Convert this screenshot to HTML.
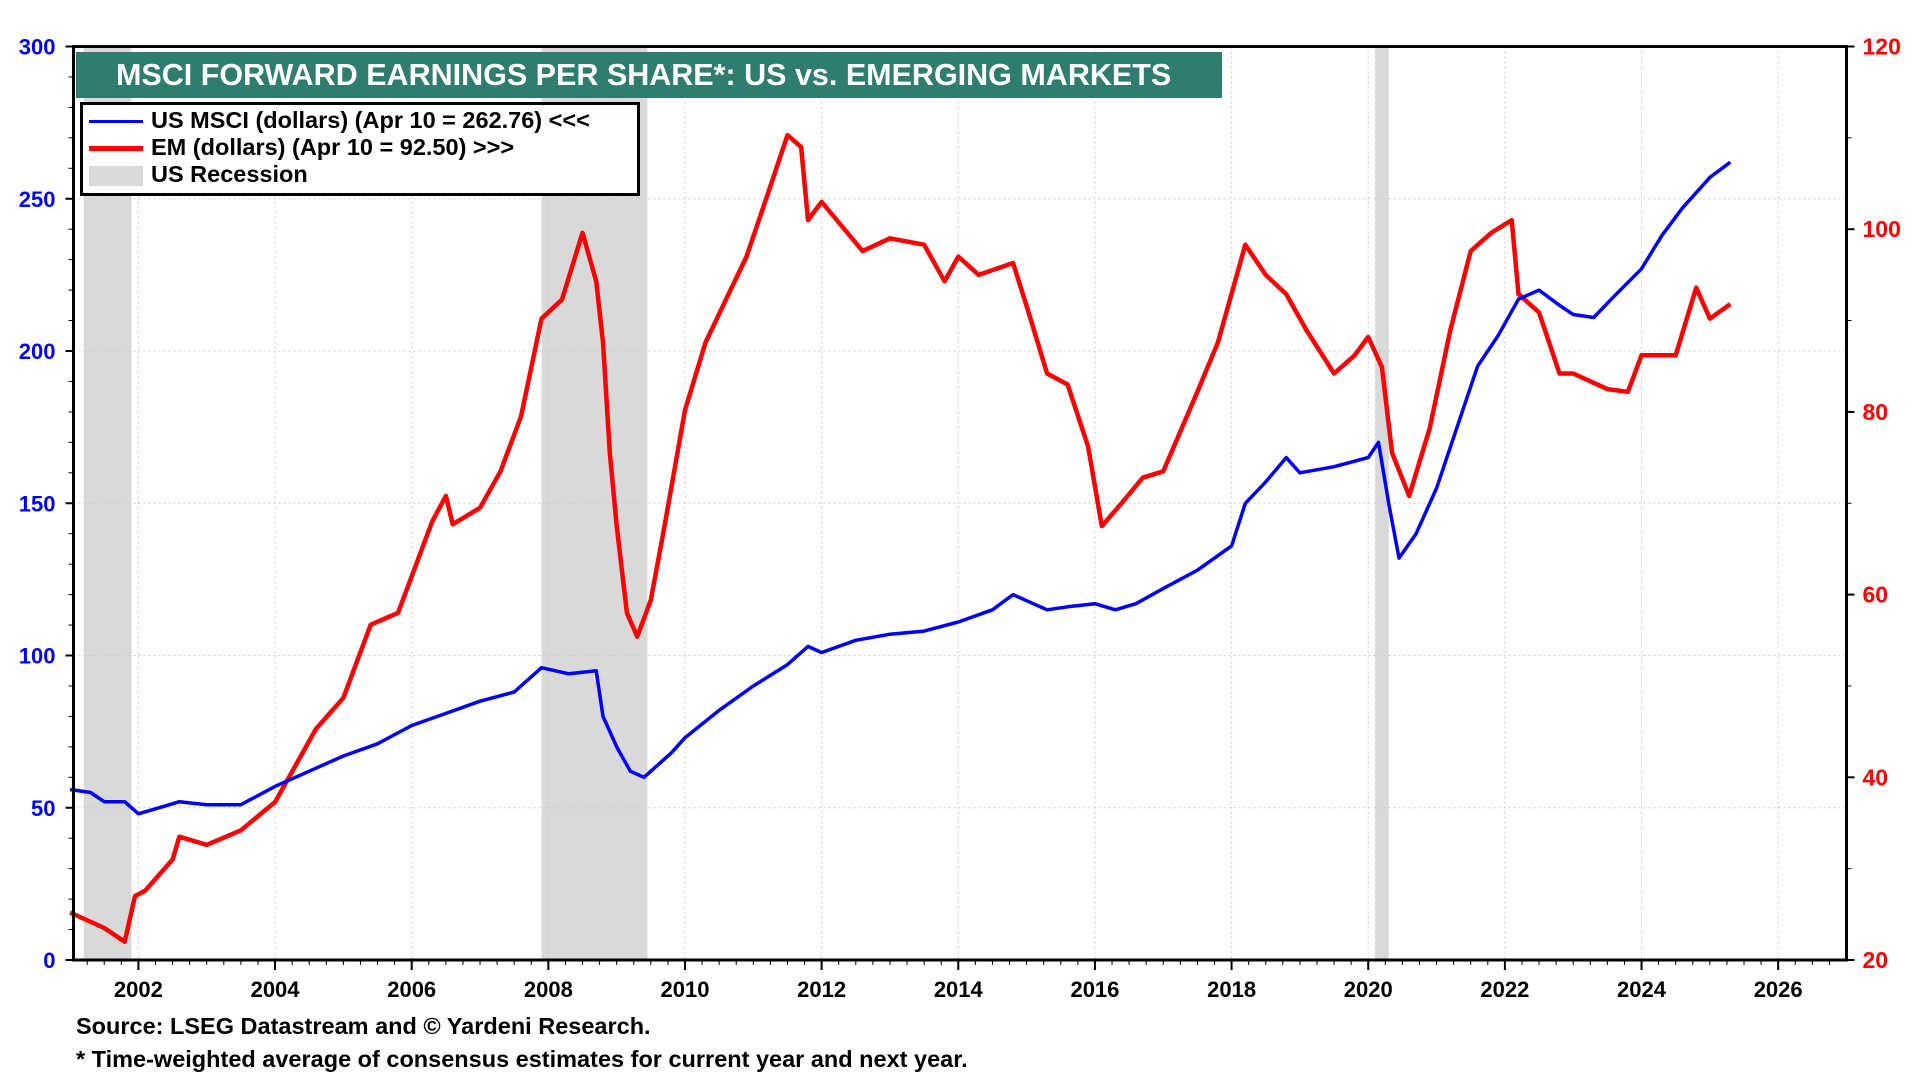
<!DOCTYPE html>
<html><head><meta charset="utf-8"><style>
html,body{margin:0;padding:0;background:#fff;}
svg{display:block;font-family:"Liberation Sans",Arial,sans-serif;}
</style></head><body>
<svg id="chart" width="1920" height="1080"></svg>
<script>
const usX=[2001.0,2001.3,2001.5,2001.8,2002.0,2002.3,2002.6,2003.0,2003.5,2004.0,2004.5,2005.0,2005.5,2006.0,2006.5,2007.0,2007.5,2007.9,2008.3,2008.7,2008.8,2009.0,2009.2,2009.4,2009.8,2010.0,2010.5,2011.0,2011.5,2011.8,2012.0,2012.5,2013.0,2013.5,2014.0,2014.5,2014.8,2015.0,2015.3,2015.6,2016.0,2016.3,2016.6,2017.0,2017.5,2018.0,2018.2,2018.5,2018.8,2019.0,2019.5,2020.0,2020.15,2020.3,2020.45,2020.7,2021.0,2021.3,2021.6,2021.9,2022.2,2022.5,2022.8,2023.0,2023.3,2023.6,2024.0,2024.3,2024.6,2025.0,2025.3];
const usY=[56,55,52,52,48,50,52,51,51,57,62,67,71,77,81,85,88,96,94,95,80,70,62,60,68,73,82,90,97,103,101,105,107,108,111,115,120,118,115,116,117,115,117,122,128,136,150,157,165,160,162,165,170,150,132,140,155,175,195,205,217,220,215,212,211,218,227,238,247,257,262];
const emX=[2001.0,2001.5,2001.8,2001.95,2002.1,2002.5,2002.6,2003.0,2003.5,2004.0,2004.3,2004.6,2005.0,2005.4,2005.8,2006.0,2006.3,2006.5,2006.6,2007.0,2007.3,2007.6,2007.9,2008.2,2008.5,2008.7,2008.8,2008.9,2009.0,2009.15,2009.3,2009.5,2009.7,2010.0,2010.3,2010.6,2010.9,2011.2,2011.5,2011.7,2011.8,2012.0,2012.3,2012.6,2013.0,2013.5,2013.8,2014.0,2014.3,2014.8,2015.0,2015.3,2015.6,2015.9,2016.1,2016.4,2016.7,2017.0,2017.5,2017.8,2018.2,2018.5,2018.8,2019.1,2019.5,2019.8,2020.0,2020.2,2020.35,2020.6,2020.9,2021.2,2021.5,2021.8,2022.1,2022.2,2022.5,2022.8,2023.0,2023.5,2023.8,2024.0,2024.5,2024.8,2025.0,2025.3];
const emY=[25.2,23.5,22,27,27.6,31,33.5,32.6,34.2,37.3,41.3,45.3,48.7,56.7,58,62,68,70.8,67.7,69.5,73.5,79.5,90.2,92.3,99.6,94.3,87.6,75.5,67.5,58,55.4,59.4,67.5,80.2,87.6,92.3,97,103.6,110.3,109,101,103,100.3,97.6,99,98.3,94.3,97,95,96.3,91.6,84.2,83,76.2,67.5,70.1,72.8,73.5,82.2,87.6,98.3,95,92.9,88.9,84.2,86.2,88.2,84.9,75.5,70.8,78.2,88.9,97.6,99.6,101,92.9,90.9,84.2,84.2,82.5,82.2,86.2,86.2,93.6,90.2,91.8];
const recessions=[[2001.2,2001.9],[2007.9,2009.45],[2020.1,2020.3]];
const leftTicks=[0,50,100,150,200,250,300];
const rightTicks=[20,40,60,80,100,120];
const yearTicks=[2002,2004,2006,2008,2010,2012,2014,2016,2018,2020,2022,2024,2026];

const L=73.5,R=1846.5,T=46.5,B=960;
const x0=2001.05,x1=2027.0;
const sx=v=>L+(v-x0)/(x1-x0)*(R-L);
const syL=v=>B-(v/300)*(B-T);
const syR=v=>B-((v-20)/100)*(B-T);
const svg=document.getElementById('chart');
const NS='http://www.w3.org/2000/svg';
function mk(tag,attrs,parent){const e=document.createElementNS(NS,tag);for(const k in attrs)e.setAttribute(k,attrs[k]);(parent||svg).appendChild(e);return e;}

recessions.forEach(r=>{const e=mk('rect',{x:sx(r[0]),y:T,width:sx(r[1])-sx(r[0]),height:B-T,fill:'#d9d9d9'});

});

leftTicks.forEach(v=>{if(v>0&&v<300){const g=mk('line',{x1:L,x2:R,y1:syL(v),y2:syL(v),stroke:'#ccc','stroke-dasharray':'2,3','stroke-width':1});

}
const t=mk('text',{x:L-18,y:syL(v)+8,'text-anchor':'end','font-size':22,'font-weight':'bold',fill:'#0000ff'});t.textContent=v;


mk('line',{x1:L-8,x2:L,y1:syL(v),y2:syL(v),stroke:'#000','stroke-width':2});});
for(let v=10;v<300;v+=10){if(v%50)mk('line',{x1:L-5,x2:L,y1:syL(v),y2:syL(v),stroke:'#000','stroke-width':1});}
rightTicks.forEach(v=>{const t=mk('text',{x:R+16,y:syR(v)+8,'font-size':23,'font-weight':'bold',fill:'#ff0000'});t.textContent=v;


mk('line',{x1:R,x2:R+8,y1:syR(v),y2:syR(v),stroke:'#000','stroke-width':2});});
for(let v=30;v<120;v+=20)mk('line',{x1:R,x2:R+5,y1:syR(v),y2:syR(v),stroke:'#000','stroke-width':1});
yearTicks.forEach(y=>{const g=mk('line',{x1:sx(y),x2:sx(y),y1:T,y2:B,stroke:'#ccc','stroke-dasharray':'2,3','stroke-width':1});


mk('line',{x1:sx(y),x2:sx(y),y1:B,y2:B+10,stroke:'#000','stroke-width':2});
const t=mk('text',{x:sx(y),y:B+37,'text-anchor':'middle','font-size':22,'font-weight':'bold',fill:'#000'});t.textContent=y;

});
for(let m=2001.25;m<2027;m+=0.25){if(Math.abs(m-Math.round(m/2)*2)>0.01)mk('line',{x1:sx(m),x2:sx(m),y1:B,y2:B+5,stroke:'#000','stroke-width':1});}

function path(xs,ys,sy,color,name,w){let d='';xs.forEach((x,i)=>{d+=(i?'L':'M')+sx(x).toFixed(1)+','+sy(ys[i]).toFixed(1);});
const p=mk('path',{d:d,fill:'none',stroke:color,'stroke-width':w,'stroke-linejoin':'round'});

}
path(emX,emY,syR,'#ff0000','em-line',4.5);
path(usX,usY,syL,'#0000ff','us-msci-line',3.5);

const frame=mk('rect',{x:L,y:T,width:R-L,height:B-T,fill:'none',stroke:'#000','stroke-width':3});


</script>
<div style="position:absolute;left:76px;top:52px;width:1146px;height:46px;background:#2e7d6e;color:#fff;font:bold 30.5px 'Liberation Sans',sans-serif;line-height:46px;text-indent:40px;white-space:nowrap;">MSCI FORWARD EARNINGS PER SHARE*: US vs. EMERGING MARKETS</div>
<div style="position:absolute;left:80px;top:102px;width:554px;height:88px;border:3px solid #000;background:#fff;font:bold 23.5px 'Liberation Sans',sans-serif;color:#000;">
<div style="position:absolute;left:6px;top:2px;white-space:nowrap;"><span style="display:inline-block;width:54px;height:3px;background:#0000ff;vertical-align:middle;margin-right:8px;"></span>US MSCI (dollars) (Apr 10 = 262.76) &lt;&lt;&lt;</div>
<div style="position:absolute;left:6px;top:29px;white-space:nowrap;"><span style="display:inline-block;width:54px;height:5px;background:#ff0000;vertical-align:middle;margin-right:8px;"></span>EM (dollars) (Apr 10 = 92.50) &gt;&gt;&gt;</div>
<div style="position:absolute;left:6px;top:56px;white-space:nowrap;"><span style="display:inline-block;width:54px;height:20px;background:#d9d9d9;vertical-align:middle;margin-right:8px;"></span>US Recession</div>
</div>
<div style="position:absolute;left:76px;top:1013px;font:bold 23.5px 'Liberation Sans',sans-serif;color:#000;white-space:nowrap;">Source: LSEG Datastream and © Yardeni Research.</div>
<div style="position:absolute;left:76px;top:1046px;font:bold 23.5px 'Liberation Sans',sans-serif;color:#000;white-space:nowrap;">* Time-weighted average of consensus estimates for current year and next year.</div>
</body></html>
